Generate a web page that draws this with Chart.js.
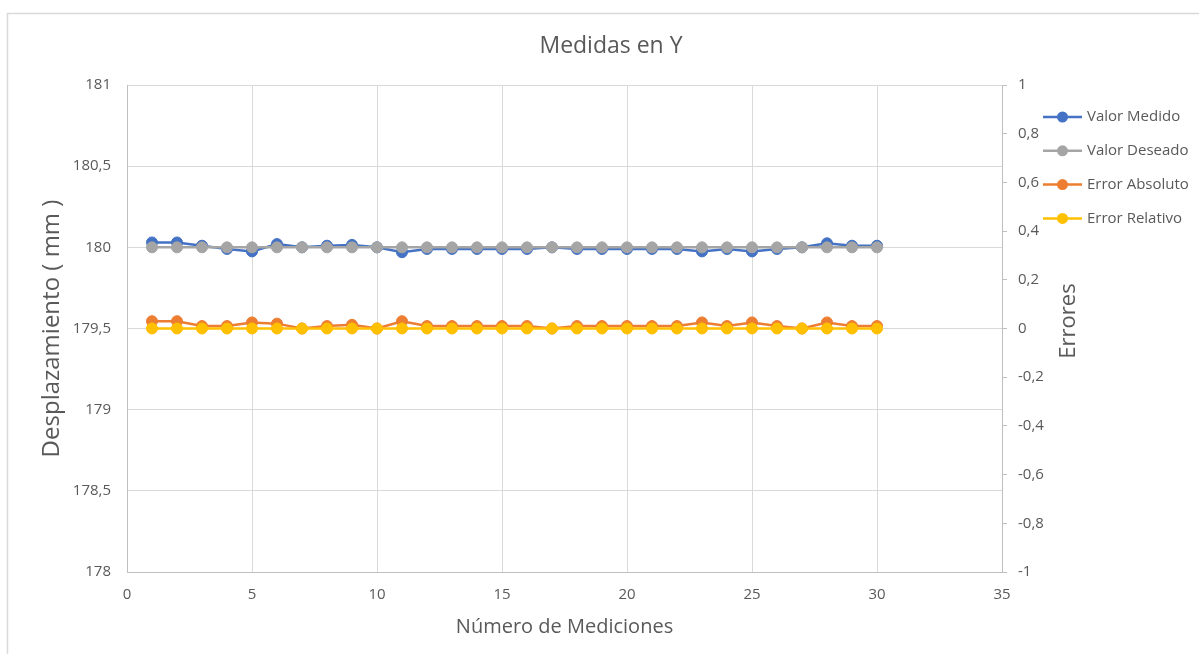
<!DOCTYPE html>
<html lang="es">
<head>
<meta charset="utf-8">
<title>Medidas en Y</title>
<script src="https://cdn.jsdelivr.net/npm/chart.js@4/dist/chart.umd.min.js"></script>
<style>
  html, body { margin: 0; padding: 0; background: #ffffff; }
  #wrap { position: relative; width: 1199px; height: 654px; }
  canvas { display: block; }
</style>
</head>
<body>
<div id="wrap"><canvas id="chart" width="1199" height="654"></canvas></div>
<script>
// Número de medición (eje X)
const mediciones = [1, 2, 3, 4, 5, 6, 7, 8, 9, 10, 11, 12, 13, 14, 15,
                    16, 17, 18, 19, 20, 21, 22, 23, 24, 25, 26, 27, 28, 29, 30];

// Desplazamiento medido y deseado (mm), eje izquierdo
const valorMedido = [180.03, 180.03, 180.01, 179.99, 179.975, 180.02, 180.00, 180.01, 180.015, 180.00,
                     179.97, 179.99, 179.99, 179.99, 179.99, 179.99, 180.00, 179.99, 179.99, 179.99,
                     179.99, 179.99, 179.975, 179.99, 179.975, 179.99, 180.00, 180.025, 180.01, 180.01];
const valorDeseado = [180, 180, 180, 180, 180, 180, 180, 180, 180, 180,
                      180, 180, 180, 180, 180, 180, 180, 180, 180, 180,
                      180, 180, 180, 180, 180, 180, 180, 180, 180, 180];

// Errores, eje derecho
const errorAbsoluto = [0.03, 0.03, 0.01, 0.01, 0.025, 0.02, 0.00, 0.01, 0.015, 0.00,
                       0.03, 0.01, 0.01, 0.01, 0.01, 0.01, 0.00, 0.01, 0.01, 0.01,
                       0.01, 0.01, 0.025, 0.01, 0.025, 0.01, 0.00, 0.025, 0.01, 0.01];
const errorRelativo = [0.00017, 0.00017, 0.00006, 0.00006, 0.00014, 0.00011, 0, 0.00006, 0.00008, 0,
                       0.00017, 0.00006, 0.00006, 0.00006, 0.00006, 0.00006, 0, 0.00006, 0.00006, 0.00006,
                       0.00006, 0.00006, 0.00014, 0.00006, 0.00014, 0.00006, 0, 0.00014, 0.00006, 0.00006];

// Nombres y colores de las series
const nombresSeries = ['Valor Medido', 'Valor Deseado', 'Error Absoluto', 'Error Relativo'];
const coloresSeries = ['#4472C4', '#A5A5A5', '#ED7D31', '#FFC000'];

const FONT = "'Open Sans', 'Noto Sans', 'DejaVu Sans', sans-serif";
const TEXT = '#595959';
const GRID = '#d9d9d9';
const AXIS = '#bfbfbf';

function puntos(valores) {
  return mediciones.map((m, i) => ({ x: m, y: valores[i] }));
}

function coma(v) {
  return String(Number(v.toFixed(1))).replace('.', ',');
}

function serie(idx, valores, eje, orden) {
  const c = coloresSeries[idx];
  return {
    label: nombresSeries[idx],
    data: puntos(valores),
    yAxisID: eje,
    order: orden,
    borderColor: c,
    backgroundColor: c,
    pointBackgroundColor: c,
    pointBorderColor: c,
    borderWidth: 2.5,
    pointRadius: 5.5,
    pointBorderWidth: 1,
    tension: 0
  };
}

// Marco, título, título del eje derecho y leyenda dibujados sobre el lienzo
const decoracion = {
  id: 'decoracion',
  beforeDraw(chart) {
    const ctx = chart.ctx;
    ctx.save();
    ctx.fillStyle = '#ffffff';
    ctx.fillRect(0, 0, chart.width, chart.height);
    ctx.strokeStyle = '#d9d9d9';
    ctx.lineWidth = 1.5;
    ctx.beginPath();
    ctx.moveTo(7.5, chart.height);
    ctx.lineTo(7.5, 13.5);
    ctx.lineTo(chart.width, 13.5);
    ctx.stroke();
    ctx.restore();
  },
  afterDraw(chart) {
    const ctx = chart.ctx;
    ctx.save();
    ctx.fillStyle = TEXT;
    ctx.font = '23px ' + FONT;
    ctx.textAlign = 'center';
    ctx.textBaseline = 'middle';
    ctx.fillText('Medidas en Y', 611, 46);

    // Título del eje secundario, leído de abajo hacia arriba
    ctx.save();
    ctx.translate(1069, 321);
    ctx.rotate(-Math.PI / 2);
    ctx.font = '22px ' + FONT;
    ctx.fillText('Errores', 0, 0);
    ctx.restore();

    ctx.font = '15px ' + FONT;
    ctx.textAlign = 'left';
    nombresSeries.forEach((nombre, i) => {
      const y = 117 + i * 33.8;
      ctx.strokeStyle = coloresSeries[i];
      ctx.fillStyle = coloresSeries[i];
      ctx.lineWidth = 2.5;
      ctx.beginPath();
      ctx.moveTo(1043, y);
      ctx.lineTo(1082, y);
      ctx.stroke();
      ctx.beginPath();
      ctx.arc(1062.5, y, 5.5, 0, Math.PI * 2);
      ctx.fill();
      ctx.fillStyle = TEXT;
      ctx.fillText(nombre, 1087, y);
    });
    ctx.restore();
  }
};

new Chart(document.getElementById('chart'), {
  type: 'line',
  data: {
    datasets: [
      serie(0, valorMedido, 'y', 4),
      serie(1, valorDeseado, 'y', 3),
      serie(2, errorAbsoluto, 'y2', 2),
      serie(3, errorRelativo, 'y2', 1)
    ]
  },
  options: {
    responsive: false,
    animation: false,
    devicePixelRatio: 1,
    layout: { padding: { top: 85, left: 0, right: 0, bottom: 0 } },
    plugins: {
      legend: { display: false },
      title: { display: false },
      tooltip: { enabled: false }
    },
    scales: {
      x: {
        type: 'linear',
        position: 'bottom',
        min: 0,
        max: 35,
        ticks: { stepSize: 5, color: TEXT, font: { family: FONT, size: 15 }, padding: 14, maxRotation: 0 },
        grid: { color: GRID, drawTicks: false },
        border: { color: AXIS },
        title: {
          display: true,
          text: 'Número de Mediciones',
          color: TEXT,
          font: { family: FONT, size: 20 },
          padding: { top: 0, bottom: 15 }
        },
        afterFit(s) { s.height = 82; }
      },
      y: {
        position: 'left',
        min: 178,
        max: 181,
        ticks: {
          stepSize: 0.5,
          color: TEXT,
          font: { family: FONT, size: 15 },
          padding: 16,
          callback: v => coma(v)
        },
        grid: { color: GRID, drawTicks: false },
        border: { color: AXIS },
        title: {
          display: true,
          text: 'Desplazamiento ( mm )',
          color: TEXT,
          font: { family: FONT, size: 24 },
          padding: { top: 37.6, bottom: 0 }
        },
        afterFit(s) { s.width = 127; }
      },
      y2: {
        position: 'right',
        min: -1,
        max: 1,
        ticks: {
          stepSize: 0.2,
          color: TEXT,
          font: { family: FONT, size: 15 },
          padding: 11,
          callback: v => coma(v)
        },
        grid: { drawOnChartArea: false, drawTicks: true, tickLength: 5, color: AXIS },
        border: { color: AXIS },
        title: { display: false },
        afterFit(s) { s.width = 197; }
      }
    }
  },
  plugins: [decoracion]
});
</script>
</body>
</html>
